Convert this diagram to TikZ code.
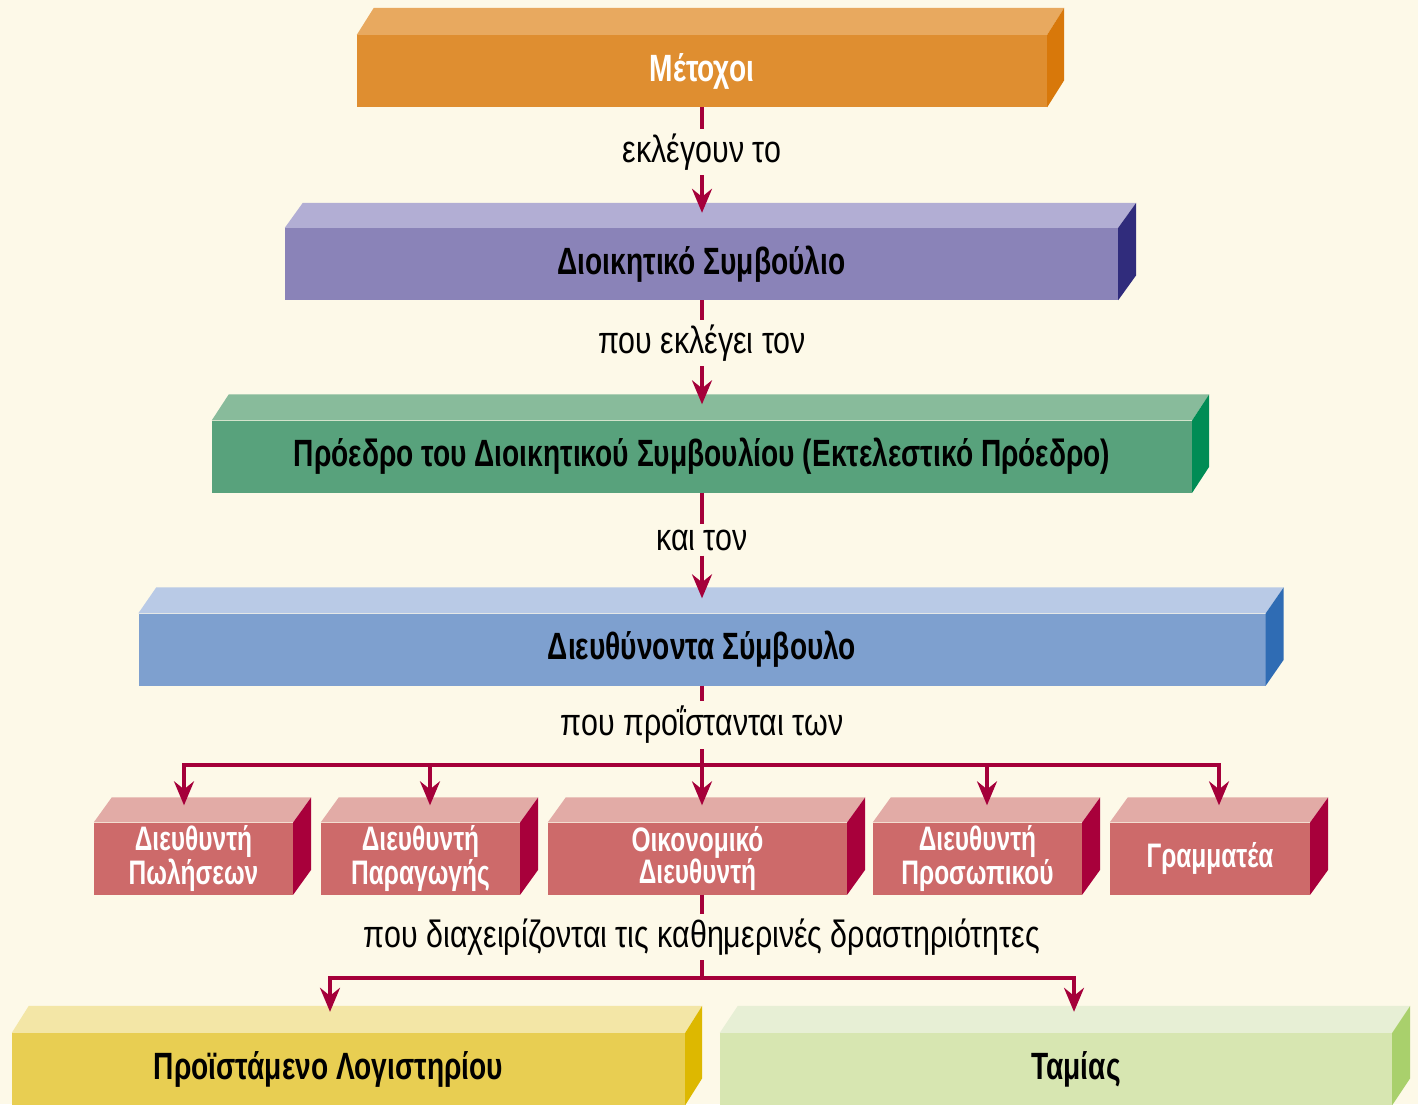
\documentclass[tikz,border=0pt]{standalone}
\usepackage{fontspec}
\setmainfont{Liberation Sans}
\newfontfamily\cf[FakeStretch=0.74]{Liberation Sans}
\newfontfamily\cl[FakeStretch=0.80]{Liberation Sans}
\newfontfamily\cs[FakeStretch=0.72]{Liberation Sans}
\usetikzlibrary{arrows.meta,calc}
\definecolor{bg}{HTML}{FDF9E8}
\definecolor{arr}{HTML}{A5003A}
\definecolor{oF}{HTML}{DF8E30}\definecolor{oT}{HTML}{E8A95F}\definecolor{oS}{HTML}{D8780A}
\definecolor{pF}{HTML}{8A83B8}\definecolor{pT}{HTML}{B2AED4}\definecolor{pS}{HTML}{302C7C}
\definecolor{gF}{HTML}{58A27C}\definecolor{gT}{HTML}{88BB9B}\definecolor{gS}{HTML}{008C55}
\definecolor{bF}{HTML}{7EA0CF}\definecolor{bT}{HTML}{B9CAE6}\definecolor{bS}{HTML}{2F6CB4}
\definecolor{rF}{HTML}{CD6A6A}\definecolor{rT}{HTML}{E2ABA6}\definecolor{rS}{HTML}{A8003B}
\definecolor{yF}{HTML}{E8CE52}\definecolor{yT}{HTML}{F3E6A6}\definecolor{yS}{HTML}{DDB800}
\definecolor{lF}{HTML}{D7E6B1}\definecolor{lT}{HTML}{E7EFD5}\definecolor{lS}{HTML}{A9D06C}
\tikzset{
  front/.style={draw=none, minimum height=72pt, inner sep=0pt, align=center, text=black,
    font=\cf\bfseries\fontsize{38}{38}\selectfont},
  small/.style={front, text=white, font=\cs\bfseries\fontsize{34}{31}\selectfont},
  conn/.style={line width=3.5pt, draw=arr},
  tip/.style={-{Stealth[length=24pt,width=20pt,inset=8pt]}},
  lab/.style={inner sep=5pt, font=\cl\fontsize{38}{38}\selectfont}
}
\newcommand\depthfaces[5]{% node, top colour, side colour, dx, dy
  \fill[#2] (#1.north west) -- ++(#4,-#5) -- ($(#1.north east)+(#4,-#5)$) -- (#1.north east) -- cycle;
  \fill[#3] (#1.north east) -- ++(#4,-#5) -- ($(#1.south east)+(#4,-#5)$) -- (#1.south east) -- cycle;
}
\begin{document}
\begin{tikzpicture}[x=1pt,y=-1pt]
\fill[bg] (0,0) rectangle (1418,1104);
\useasboundingbox (0,0) rectangle (1418,1104);
% main boxes
\node[front, fill=oF, minimum width=690pt, text=white] (b1) at (702,71) {Μέτοχοι};
\depthfaces{b1}{oT}{oS}{17}{27}
\node[front, fill=pF, minimum width=833pt] (b2) at (701.5,264) {Διοικητικό Συμβούλιο};
\depthfaces{b2}{pT}{pS}{18}{25}
\node[front, fill=gF, minimum width=980pt] (b3) at (702,456.5) {Πρόεδρο του Διοικητικού Συμβουλίου (Εκτελεστικό Πρόεδρο)};
\depthfaces{b3}{gT}{gS}{17}{26}
\node[front, fill=bF, minimum width=1127pt] (b4) at (702,649.5) {Διευθύνοντα Σύμβουλο};
\depthfaces{b4}{bT}{bS}{18}{26}
% small boxes
\node[small, fill=rF, minimum width=199pt] (s1) at (193.5,858.5) {Διευθυντή\\Πωλήσεων};
\node[small, fill=rF, minimum width=199pt] (s2) at (420.5,858.5) {Διευθυντή\\Παραγωγής};
\node[small, fill=rF, minimum width=299pt] (s3) at (697.5,858.5) {Οικονομικό\\Διευθυντή};
\node[small, fill=rF, minimum width=209pt] (s4) at (977.5,858.5) {Διευθυντή\\Προσωπικού};
\node[small, fill=rF, minimum width=200pt] (s5) at (1210,858.5) {Γραμματέα};
\foreach \n in {s1,s2,s3,s4,s5}{\depthfaces{\n}{rT}{rS}{18}{25}}
% bottom boxes
\node[front, fill=yF, minimum width=673pt] (y1) at (348.5,1069) {Προϊστάμενο Λογιστηρίου\hspace*{40pt}};
\depthfaces{y1}{yT}{yS}{17}{27}
\node[front, fill=lF, minimum width=672pt] (g1) at (1056,1069) {\hspace*{40pt}Ταμίας};
\depthfaces{g1}{lT}{lS}{18}{27}
% labels
\node[lab] (l1) at (702,152) {εκλέγουν το};
\node[lab] (l2) at (702,343) {που εκλέγει τον};
\node[lab] (l3) at (702,540) {και τον};
\node[lab] (l4) at (702,725) {που προΐστανται των};
\node[lab] (l5) at (702,937) {που διαχειρίζονται τις καθημερινές δραστηριότητες};
% connectors
\draw[conn] (b1.south) -- (l1.north);
\draw[conn,tip] (l1.south) -- ([yshift=15pt]b2.north -| l1);
\draw[conn] (b2.south -| l2) -- (l2.north);
\draw[conn,tip] (l2.south) -- ([yshift=16pt]b3.north -| l2);
\draw[conn] (b3.south -| l3) -- (l3.north);
\draw[conn,tip] (l3.south) -- ([yshift=15pt]b4.north -| l3);
\draw[conn] (b4.south -| l4) -- (l4.north);
\coordinate (j) at ([yshift=-40pt]l4.center);
\coordinate (t1) at ([xshift=-9.5pt,yshift=17pt]s1.north);
\coordinate (t2) at ([xshift=9.5pt,yshift=17pt]s2.north);
\coordinate (t4) at ([xshift=9.5pt,yshift=17pt]s4.north);
\coordinate (t5) at ([xshift=9pt,yshift=17pt]s5.north);
\draw[conn] (l4.south) -- (j);
\draw[conn,tip] (j) -| (t1);
\draw[conn,tip] (j) -| (t2);
\draw[conn,tip] (j) -- ([yshift=17pt]s3.north -| j);
\draw[conn,tip] (j) -| (t4);
\draw[conn,tip] (j) -| (t5);
\draw[conn] (s3.south -| l5) -- (l5.north);
\coordinate (k) at ([yshift=-41pt]l5.center);
\coordinate (u1) at ([xshift=-18.5pt,yshift=21pt]y1.north);
\coordinate (u2) at ([xshift=18pt,yshift=21pt]g1.north);
\draw[conn] (l5.south) -- (k);
\draw[conn,tip] (k) -| (u1);
\draw[conn,tip] (k) -| (u2);
\end{tikzpicture}
\end{document}
